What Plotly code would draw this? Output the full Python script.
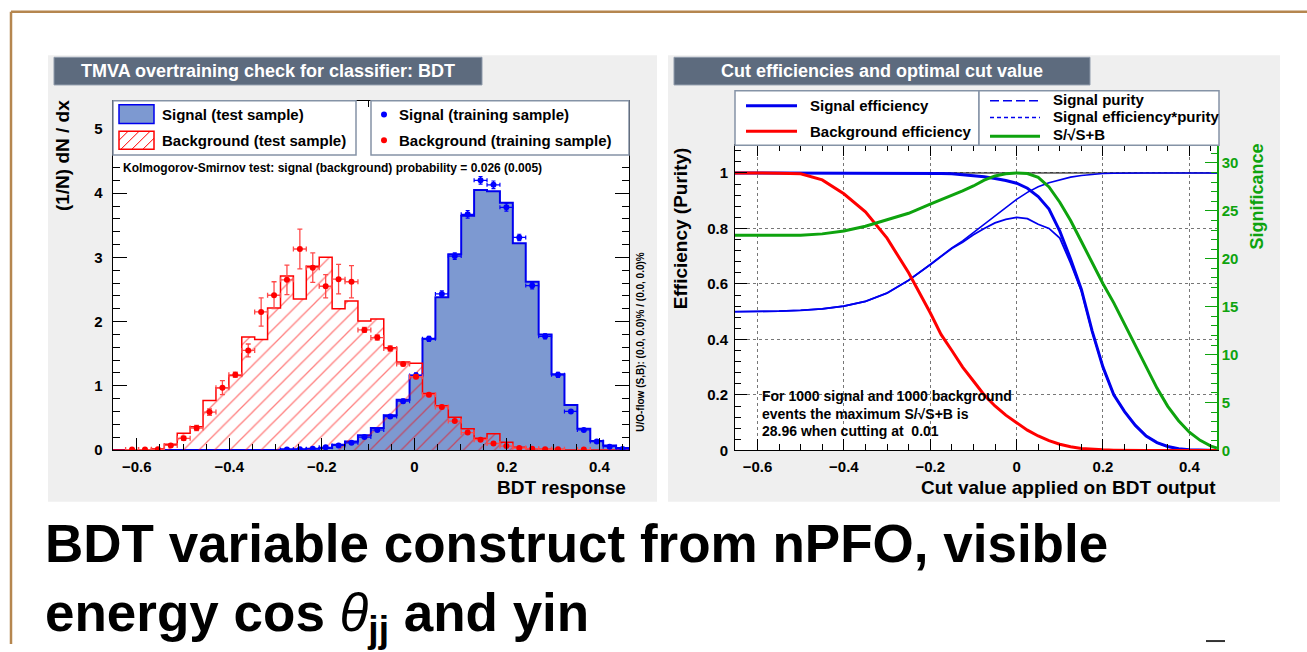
import numpy as np
import plotly.graph_objects as go

W, H = 1307, 652
FONT = "Liberation Sans, Arial, Helvetica, sans-serif"

# ---------------- data: overtraining check (40 bins) ----------------
BIN_LO, BIN_HI, N_BINS = -0.652, 0.464, 40

sig_test = [0, 0, 0, 0, 0, 0, 0, 0, 0, 0, 0, 0, 0,
            0.01, 0.01, 0.02, 0.03, 0.08, 0.13, 0.23, 0.34, 0.54, 0.78,
            1.16, 1.73, 2.38, 3.05, 3.65, 4.05, 4.03, 3.85, 3.22, 2.62,
            1.80, 1.18, 0.70, 0.33, 0.14, 0.07, 0.03]

bkg_test = [0, 0, 0, 0.02, 0.09, 0.26, 0.36, 0.77, 0.97, 1.16,
            1.76, 1.72, 2.21, 2.71, 2.35, 2.86, 3.00, 2.20, 2.32, 2.01,
            2.04, 1.59, 1.37, 1.35, 0.88, 0.69, 0.51, 0.33, 0.18, 0.25,
            0.12, 0.04, 0.02, 0.01, 0.005, 0, 0, 0, 0, 0]

sig_train = [None] * 13 + [0.005, 0.01, 0.02, 0.04, 0.07, 0.11, 0.20, 0.31, 0.52, 0.76,
                           1.16, 1.73, 2.43, 3.02, 3.67, 4.20, 4.13, 3.78, 3.31, 2.56,
                           1.77, 1.17, 0.60, 0.31, 0.13, 0.05, 0.015]
sig_train_err = [0] * 13 + [0.005, 0.005, 0.01, 0.01, 0.01, 0.015, 0.02, 0.02, 0.03, 0.03,
                            0.04, 0.04, 0.05, 0.05, 0.06, 0.06, 0.06, 0.06, 0.05, 0.05,
                            0.04, 0.04, 0.03, 0.02, 0.015, 0.01, 0.005]

bkg_train = [None, 0.005, 0.005, 0.01, 0.07, 0.18, 0.34, 0.59, 0.97, 1.17,
             1.55, 2.15, 2.41, 2.65, 3.13, 2.84, 2.55, 2.66, 2.62, 1.87,
             1.75, 1.58, 1.34, 1.14, 0.86, 0.67, 0.45, 0.27, 0.16, 0.10,
             0.06, 0.03, 0.02, 0.01, 0.01, None, 0.005, None, None, None]
bkg_train_err = [0, 0.01, 0.01, 0.01, 0.02, 0.03, 0.04, 0.05, 0.11, 0.04,
                 0.10, 0.22, 0.21, 0.23, 0.31, 0.23, 0.18, 0.23, 0.25, 0.04,
                 0.04, 0.04, 0.03, 0.03, 0.03, 0.03, 0.02, 0.02, 0.02, 0.01,
                 0.01, 0.01, 0.01, 0.01, 0.01, 0, 0.005, 0, 0, 0]

# ---------------- data: cut efficiencies ----------------
cut_x = [-0.652, -0.6, -0.55, -0.5, -0.45, -0.4, -0.35, -0.3, -0.25, -0.2,
         -0.175, -0.15, -0.125, -0.1, -0.075, -0.05, -0.025, 0.0,
         0.025, 0.05, 0.075, 0.1, 0.125, 0.15, 0.175, 0.2, 0.225, 0.25,
         0.275, 0.3, 0.325, 0.35, 0.375, 0.4, 0.425, 0.45, 0.464]

sig_eff = [1, 1, 1, 1, 1, 1, 1, 1, 1, 0.999,
           0.998, 0.997, 0.994, 0.99, 0.986, 0.98, 0.973, 0.963,
           0.945, 0.915, 0.87, 0.79, 0.69, 0.58, 0.43, 0.30, 0.20, 0.14,
           0.09, 0.052, 0.028, 0.014, 0.006, 0.002, 0.001, 0, 0]

bkg_eff = [1, 1, 0.999, 0.997, 0.975, 0.925, 0.86, 0.765, 0.64, 0.496,
           0.418, 0.36, 0.30, 0.25, 0.20, 0.16, 0.127, 0.10,
           0.073, 0.052, 0.035, 0.022, 0.013, 0.007, 0.004, 0.002, 0.001, 0,
           0, 0, 0, 0, 0, 0, 0, 0, 0]

purity = [0.5, 0.5, 0.502, 0.505, 0.51, 0.52, 0.537, 0.567, 0.613, 0.67,
          0.70, 0.73, 0.755, 0.785, 0.815, 0.845, 0.875, 0.905,
          0.93, 0.95, 0.965, 0.976, 0.985, 0.991, 0.995, 0.998, 0.999, 1,
          1, 1, 1, 1, 1, 1, 1, 1, 1]

eff_pur = [0.5, 0.5, 0.502, 0.505, 0.51, 0.52, 0.537, 0.567, 0.613, 0.669,
           0.699, 0.728, 0.75, 0.777, 0.80, 0.82, 0.833, 0.84,
           0.835, 0.815, 0.80, 0.765, 0.675, 0.575, 0.428, 0.30, 0.20, 0.14,
           0.09, 0.052, 0.028, 0.014, 0.006, 0.002, 0.001, 0, 0]

signif = [22.45, 22.45, 22.45, 22.47, 22.6, 22.9, 23.4, 24.05, 24.75, 25.7,
          26.15, 26.65, 27.1, 27.6, 28.2, 28.65, 28.88, 28.95,
          28.9, 28.5, 27.5, 25.9, 24.0, 21.8, 19.6, 17.4, 15.4, 13.2,
          11.0, 8.8, 6.5, 4.6, 3.1, 1.9, 1.05, 0.45, 0.25]
SIG_MAX = 28.96

# ---------------- helpers ----------------
def X(p):
    return p / W

def Y(p):
    return 1 - p / H

edges = np.linspace(BIN_LO, BIN_HI, N_BINS + 1)
centers = 0.5 * (edges[:-1] + edges[1:])
bw = edges[1] - edges[0]

def step_xy(vals):
    xs = [edges[0]] + list(edges[:-1]) + [edges[-1], edges[-1]]
    ys = [0] + list(vals) + [vals[-1], 0]
    return xs, ys

BLUE = "#0000ee"
RED = "#ff0000"
GREEN = "#0ea30e"
SIGFILL = "#7d99d1"

fig = go.Figure()

sx, sy = step_xy(sig_test)
fig.add_trace(go.Scatter(x=sx, y=sy, mode="lines", line=dict(shape="hv", color=BLUE, width=2),
                         fill="tozeroy", fillcolor=SIGFILL, xaxis="x", yaxis="y", showlegend=False,
                         hoverinfo="skip"))
bx, by = step_xy(bkg_test)
fig.add_trace(go.Scatter(x=bx, y=by, mode="lines", line=dict(shape="hv", color=RED, width=1.5),
                         fill="tozeroy", fillcolor="rgba(0,0,0,0)",
                         fillpattern=dict(shape="/", fgcolor=RED, bgcolor="rgba(0,0,0,0)",
                                          size=11, solidity=0.12),
                         xaxis="x", yaxis="y", showlegend=False, hoverinfo="skip"))

fig.add_trace(go.Scatter(x=centers, y=sig_train, mode="markers",
                         marker=dict(color="#0000ff", size=6),
                         error_y=dict(type="data", array=sig_train_err, color="#0000ff", thickness=1.2, width=2),
                         error_x=dict(type="constant", value=bw / 2, color="#0000ff", thickness=1.2, width=2),
                         xaxis="x", yaxis="y", showlegend=False))
fig.add_trace(go.Scatter(x=centers, y=bkg_train, mode="markers",
                         marker=dict(color=RED, size=6),
                         error_y=dict(type="data", array=bkg_train_err, color="#ff4a4a", thickness=1.3, width=2.5),
                         error_x=dict(type="constant", value=bw / 2, color="#ff4a4a", thickness=1.3, width=2.5),
                         xaxis="x", yaxis="y", showlegend=False))

# right plot curves
fig.add_trace(go.Scatter(x=cut_x, y=purity, mode="lines", line=dict(color=BLUE, width=1.6),
                         xaxis="x2", yaxis="y2", showlegend=False))
fig.add_trace(go.Scatter(x=cut_x, y=eff_pur, mode="lines", line=dict(color=BLUE, width=1.8),
                         xaxis="x2", yaxis="y2", showlegend=False))
fig.add_trace(go.Scatter(x=cut_x, y=sig_eff, mode="lines", line=dict(color=BLUE, width=3),
                         xaxis="x2", yaxis="y2", showlegend=False))
fig.add_trace(go.Scatter(x=cut_x, y=bkg_eff, mode="lines", line=dict(color=RED, width=3),
                         xaxis="x2", yaxis="y2", showlegend=False))
fig.add_trace(go.Scatter(x=cut_x, y=signif, mode="lines", line=dict(color=GREEN, width=3),
                         xaxis="x2", yaxis="y3", showlegend=False))

tickfont = dict(family=FONT, size=15, color="black", weight="bold")

def axis_common(**kw):
    d = dict(showline=True, linecolor="black", linewidth=1, ticks="inside", tickcolor="black",
             tickwidth=1, showgrid=False, zeroline=False, tickfont=tickfont)
    d.update(kw)
    return d

x1dom = [X(112.7), X(629)]
y1dom = [Y(455.5), Y(102)]
x2dom = [X(735), X(1217)]
y2dom = [Y(456), Y(147)]

fig.update_layout(
    width=W, height=H, autosize=False,
    margin=dict(l=0, r=0, t=0, b=0),
    paper_bgcolor="white", plot_bgcolor="rgba(0,0,0,0)",
    font=dict(family=FONT, color="black"),
    xaxis=axis_common(domain=x1dom, anchor="y", range=[BIN_LO, BIN_HI], mirror="ticks",
                      dtick=0.2, tick0=0, ticklen=12, ticklabelstandoff=3,
                      minor=dict(ticks="inside", ticklen=6, dtick=0.05, tick0=0, tickcolor="black")),
    yaxis=axis_common(domain=y1dom, anchor="x", range=[0, 5.44], mirror="ticks",
                      dtick=1, tick0=0, ticklen=14, ticklabelstandoff=6,
                      minor=dict(ticks="inside", ticklen=7, dtick=0.2, tick0=0, tickcolor="black")),
    xaxis2=axis_common(domain=x2dom, anchor="y2", range=[BIN_LO, BIN_HI], mirror="ticks",
                       dtick=0.2, tick0=0, ticklen=11, ticklabelstandoff=3,
                       showgrid=True, gridcolor="#777777", griddash="dot", gridwidth=1,
                       minor=dict(ticks="inside", ticklen=6, dtick=0.05, tick0=0, tickcolor="black")),
    yaxis2=axis_common(domain=y2dom, anchor="x2", range=[0, 1.1], mirror=False,
                       dtick=0.2, tick0=0, ticklen=12, ticklabelstandoff=3,
                       showgrid=True, gridcolor="#777777", griddash="dot", gridwidth=1,
                       minor=dict(ticks="inside", ticklen=6, dtick=0.04, tick0=0, tickcolor="black")),
    yaxis3=dict(overlaying="y2", anchor="x2", side="right", range=[0, 1.1 * SIG_MAX],
                showline=True, linecolor=GREEN, linewidth=1.5, ticks="inside", tickcolor=GREEN,
                ticklen=12, tickwidth=1, dtick=5, tick0=0, showgrid=False, zeroline=False,
                tickfont=dict(family=FONT, size=15, color=GREEN, weight="bold"),
                minor=dict(ticks="inside", ticklen=6, dtick=1, tick0=0, tickcolor=GREEN)),
)

shapes = []
BORDER = "#b5864f"
shapes.append(dict(type="line", xref="paper", yref="paper", x0=X(11), x1=X(1307), y0=Y(12), y1=Y(12),
                   line=dict(color=BORDER, width=2.5), layer="below"))
shapes.append(dict(type="line", xref="paper", yref="paper", x0=X(11), x1=X(11), y0=Y(12), y1=Y(652),
                   line=dict(color=BORDER, width=2.5), layer="below"))
# small mark bottom right
shapes.append(dict(type="line", xref="paper", yref="paper", x0=X(1206), x1=X(1225), y0=Y(649), y1=Y(649),
                   line=dict(color="#333333", width=2), layer="below"))
# grey pads
for (a, b) in [(48, 657), (668, 1280)]:
    shapes.append(dict(type="rect", xref="paper", yref="paper", x0=X(a), x1=X(b), y0=Y(508), y1=Y(56),
                       fillcolor="#efefef", line=dict(width=0), layer="below"))
# white frames
shapes.append(dict(type="rect", xref="paper", yref="paper", x0=x1dom[0], x1=x1dom[1], y0=y1dom[0], y1=y1dom[1],
                   fillcolor="white", line=dict(width=0), layer="below"))
shapes.append(dict(type="rect", xref="paper", yref="paper", x0=x2dom[0], x1=x2dom[1], y0=y2dom[0], y1=y2dom[1],
                   fillcolor="white", line=dict(width=0), layer="below"))
# title boxes
TITLEBG = "#5d6b7e"
for (a, b) in [(54, 482), (674, 1090)]:
    shapes.append(dict(type="rect", xref="paper", yref="paper", x0=X(a), x1=X(b), y0=Y(86), y1=Y(58),
                       fillcolor=TITLEBG, line=dict(color="#8f9bab", width=1), layer="below"))
# line at efficiency 1
shapes.append(dict(type="line", xref="x2 domain", yref="y2", x0=0, x1=1, y0=1, y1=1,
                   line=dict(color="black", width=1.2), layer="below"))

LEGLINE = "#8593a6"
# legend boxes (left plot)
for (a, b) in [(113, 356), (371, 629)]:
    shapes.append(dict(type="rect", xref="paper", yref="paper", x0=X(a), x1=X(b), y0=Y(157), y1=Y(102),
                       fillcolor="white", line=dict(color=LEGLINE, width=1.5), layer="above"))
# legend boxes (right plot)
for (a, b) in [(735, 979), (979, 1219)]:
    shapes.append(dict(type="rect", xref="paper", yref="paper", x0=X(a), x1=X(b), y0=Y(147), y1=Y(92),
                       fillcolor="white", line=dict(color=LEGLINE, width=1.5), layer="above"))

# left legend symbols
shapes.append(dict(type="rect", xref="paper", yref="paper", x0=X(119), x1=X(154), y0=Y(125), y1=Y(106),
                   fillcolor=SIGFILL, line=dict(color=BLUE, width=1.5), layer="above"))
hx0, hx1, hy0, hy1 = 119, 154, 133, 151
shapes.append(dict(type="rect", xref="paper", yref="paper", x0=X(hx0), x1=X(hx1), y0=Y(hy1), y1=Y(hy0),
                   fillcolor="white", line=dict(color=RED, width=1.5), layer="above"))
c = hx0 + hy0 + 9
while c < hx1 + hy1:
    xa = max(hx0, c - hy1)
    xb = min(hx1, c - hy0)
    if xb > xa:
        shapes.append(dict(type="line", xref="paper", yref="paper", x0=X(xa), x1=X(xb),
                           y0=Y(c - xa), y1=Y(c - xb), line=dict(color=RED, width=1), layer="above"))
    c += 11
for (yy, col) in [(116, "#0000ff"), (142, RED)]:
    shapes.append(dict(type="circle", xref="paper", yref="paper", x0=X(381), x1=X(387), y0=Y(yy + 3),
                       y1=Y(yy - 3), fillcolor=col, line=dict(color=col, width=0), layer="above"))

# right legend symbols
shapes.append(dict(type="line", xref="paper", yref="paper", x0=X(746), x1=X(797), y0=Y(107), y1=Y(107),
                   line=dict(color=BLUE, width=3), layer="above"))
shapes.append(dict(type="line", xref="paper", yref="paper", x0=X(746), x1=X(797), y0=Y(133), y1=Y(133),
                   line=dict(color=RED, width=3), layer="above"))
shapes.append(dict(type="line", xref="paper", yref="paper", x0=X(990), x1=X(1040), y0=Y(102), y1=Y(102),
                   line=dict(color=BLUE, width=1.5, dash="9px,4px"), layer="above"))
shapes.append(dict(type="line", xref="paper", yref="paper", x0=X(990), x1=X(1040), y0=Y(119), y1=Y(119),
                   line=dict(color=BLUE, width=1.5, dash="4px,3px"), layer="above"))
shapes.append(dict(type="line", xref="paper", yref="paper", x0=X(990), x1=X(1040), y0=Y(138), y1=Y(138),
                   line=dict(color=GREEN, width=3), layer="above"))

annotations = []

def ann(text, x, y, size, color="black", xanchor="left", angle=0, bold=True):
    annotations.append(dict(text=("<b>%s</b>" % text) if bold else text, x=X(x), y=Y(y), xref="paper",
                            yref="paper", xanchor=xanchor, yanchor="middle", showarrow=False,
                            textangle=angle, font=dict(family=FONT, size=size, color=color)))

ann("TMVA overtraining check for classifier: BDT", 268, 72, 18, color="white", xanchor="center")
ann("Cut efficiencies and optimal cut value", 882, 72, 18, color="white", xanchor="center")

ann("Signal (test sample)", 160, 116, 15)
ann("Background (test sample)", 160, 142, 15)
ann("Signal (training sample)", 397, 116, 15)
ann("Background (training sample)", 397, 142, 15)
ann("Kolmogorov-Smirnov test: signal (background) probability = 0.026 (0.005)", 121, 170, 12)
ann("BDT response", 628, 494, 19, xanchor="right")
ann("(1/N) dN / dx", 62, 157, 19, xanchor="center", angle=-90)
ann("U/O-flow (S,B): (0.0, 0.0)% / (0.0, 0.0)%", 641, 346, 10, xanchor="center", angle=-90)

ann("Signal efficiency", 808, 107, 15)
ann("Background efficiency", 808, 133, 15)
ann("Signal purity", 1051, 101, 15)
ann("Signal efficiency*purity", 1051, 118, 15)
ann("S/\u221aS+B", 1051, 136, 15)
ann("Efficiency (Purity)", 680, 231, 19, xanchor="center", angle=-90)
ann("Significance", 1257, 199, 18, color=GREEN, xanchor="center", angle=-90)
ann("Cut value applied on BDT output", 1218, 494, 19, xanchor="right")
ann("For 1000 signal and 1000 background", 760, 401, 14)
ann("events the maximum S/\u221aS+B is", 760, 419, 14)
ann("28.96 when cutting at  0.01", 760, 436, 14)

ann("BDT variable construct from nPFO, visible", 43, 550, 53)
annotations.append(dict(text="<b>energy cos </b><i>\u03b8</i><b><sub>jj</sub> and yin</b>",
                        x=X(43), y=Y(624), xref="paper", yref="paper", xanchor="left", yanchor="middle",
                        showarrow=False, font=dict(family=FONT, size=53, color="black")))

fig.update_layout(shapes=shapes, annotations=annotations)
fig.write_html("out.html")
